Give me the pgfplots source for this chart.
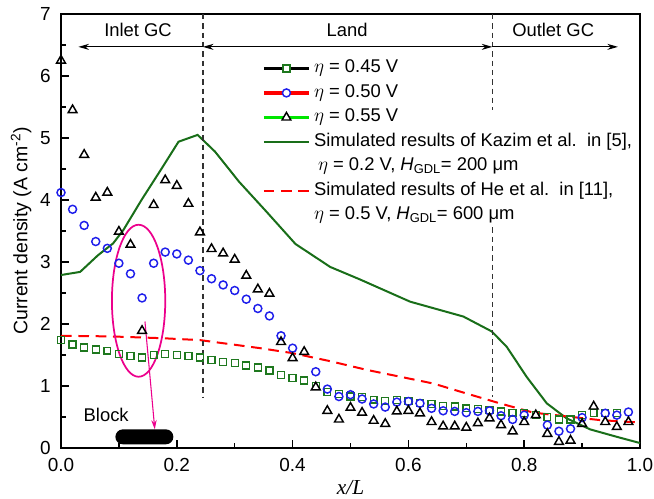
\documentclass[border=0pt]{standalone}
\usepackage{fontspec}
\setmainfont{Liberation Sans}
\newfontfamily\timesfont{Liberation Serif}
\usepackage{pgfplots}
\pgfplotsset{compat=1.18}
\usetikzlibrary{arrows.meta}
\definecolor{sqgreen}{RGB}{30,120,30}
\definecolor{cblue}{RGB}{30,30,235}
\definecolor{kgreen}{RGB}{25,110,25}
\definecolor{lgreen}{RGB}{0,230,0}
\definecolor{dgray}{RGB}{50,50,50}
\begin{document}
\fontsize{13.8}{16}\selectfont
\begin{tikzpicture}
\useasboundingbox (-45.75pt,-38.25pt) rectangle (444.75pt,336pt);
\begin{axis}[
  scale only axis, width=434.25pt, height=325.5pt,
  at={(0,0)}, anchor=south west,
  xmin=0, xmax=1, ymin=0, ymax=7,
  xtick={0,0.2,0.4,0.6,0.8,1.0},
  xticklabels={0.0,0.2,0.4,0.6,0.8,1.0},
  ytick={0,1,2,3,4,5,6,7},
  minor x tick num=1, minor y tick num=1,
  xtick pos=bottom, ytick pos=left, tick align=inside,
  major tick length=6pt, minor tick length=3.5pt,
  axis line style={line width=1.3pt},
  every tick/.style={black, line width=1.1pt},
  /pgf/number format/assume math mode=true,
  tick label style={font=\fontsize{14.2}{16}\selectfont},
  xticklabel style={yshift=-3pt},
  yticklabel style={xshift=-3pt},
  xlabel={{\fontsize{16}{18}\selectfont\timesfont\itshape x/L}},
  xlabel style={at={(axis description cs:0.5,-0.108)}, anchor=base},
  ylabel={{\fontsize{14.6}{17}\selectfont Current density (A cm\textsuperscript{-2})}},
  ylabel style={at={(axis description cs:-0.040,0.5)}, anchor=south},
  legend style={at={(0.347,0.896)}, anchor=north west, draw=none, fill=none,
    inner sep=0pt, row sep=4.9pt,
    font=\fontsize{13.8}{16}\selectfont,
    nodes={inner ysep=0pt, inner xsep=2.5pt, text height=10pt, text depth=3.5pt}},
  legend cell align=left,
  legend image code/.code={\draw[mark repeat=2, mark phase=2] plot coordinates {(0pt,0pt) (17pt,0pt) (34pt,0pt)};},
]
% Kazim et al. simulation
\addplot[kgreen, line width=1.5pt, forget plot] table {
0     2.79
0.033 2.84
0.064 3.11
0.090 3.30
0.108 3.52
0.139 4.00
0.174 4.51
0.203 4.94
0.236 5.05
0.266 4.78
0.290 4.50
0.307 4.30
0.355 3.81
0.405 3.29
0.465 2.92
0.516 2.72
0.603 2.36
0.695 2.12
0.744 1.88
0.770 1.63
0.804 1.15
0.839 0.72
0.873 0.48
0.914 0.30
0.960 0.18
1.000 0.08
};
% He et al. simulation
\addplot[red, line width=1.5pt, dash pattern=on 8pt off 5pt, forget plot] table {
0     1.81
0.085 1.80
0.177 1.77
0.240 1.74
0.344 1.61
0.400 1.53
0.465 1.40
0.528 1.26
0.643 1.04
0.700 0.88
0.758 0.72
0.816 0.57
0.873 0.51
0.931 0.45
1.000 0.41
};
% eta = 0.45 V
\addplot[only marks, mark=square, mark size=2.6pt, draw=sqgreen, mark options={line width=1pt}, forget plot] table {
0 1.74
0.02 1.67
0.04 1.62
0.06 1.59
0.08 1.57
0.10 1.52
0.12 1.48
0.14 1.46
0.16 1.50
0.18 1.52
0.20 1.50
0.22 1.48
0.24 1.46
0.26 1.42
0.28 1.39
0.30 1.37
0.32 1.33
0.34 1.30
0.36 1.25
0.38 1.18
0.40 1.13
0.42 1.09
0.44 1.00
0.46 0.90
0.48 0.87
0.50 0.83
0.52 0.82
0.54 0.78
0.56 0.76
0.58 0.77
0.60 0.76
0.62 0.73
0.64 0.71
0.66 0.68
0.68 0.67
0.70 0.64
0.72 0.63
0.74 0.61
0.76 0.59
0.78 0.57
0.80 0.56
0.82 0.53
0.84 0.50
0.86 0.46
0.88 0.46
0.90 0.53
0.92 0.56
0.94 0.56
0.96 0.56
};
% eta = 0.50 V
\addplot[only marks, mark=o, mark size=3pt, draw=cblue, mark options={line width=1.1pt}, forget plot] table {
0 4.12
0.02 3.85
0.04 3.59
0.06 3.33
0.08 3.22
0.10 2.98
0.12 2.81
0.14 2.42
0.16 2.98
0.18 3.16
0.20 3.13
0.22 3.03
0.24 2.86
0.26 2.73
0.28 2.63
0.30 2.54
0.32 2.40
0.34 2.25
0.36 2.13
0.38 1.81
0.40 1.61
0.44 1.23
0.46 0.95
0.48 0.83
0.50 0.86
0.52 0.79
0.54 0.71
0.56 0.66
0.58 0.74
0.60 0.75
0.62 0.72
0.64 0.64
0.66 0.60
0.68 0.59
0.70 0.57
0.72 0.59
0.74 0.60
0.76 0.52
0.78 0.46
0.80 0.53
0.84 0.37
0.86 0.27
0.88 0.31
0.90 0.49
0.94 0.56
0.96 0.53
0.98 0.58
};
% eta = 0.55 V
\addplot[only marks, mark=triangle, mark size=3.8pt, draw=black, mark options={line width=1.1pt}, forget plot] table {
0 6.25
0.02 5.45
0.04 4.73
0.06 4.04
0.08 4.12
0.10 3.49
0.12 3.28
0.14 1.89
0.16 3.92
0.18 4.32
0.20 4.23
0.22 3.94
0.24 3.48
0.26 3.21
0.28 3.14
0.30 3.04
0.32 2.78
0.34 2.56
0.36 2.49
0.38 1.71
0.40 1.45
0.42 1.55
0.44 0.98
0.46 0.60
0.48 0.46
0.50 0.65
0.52 0.57
0.54 0.44
0.56 0.39
0.58 0.59
0.60 0.60
0.62 0.56
0.64 0.42
0.66 0.35
0.68 0.35
0.70 0.33
0.72 0.40
0.74 0.48
0.76 0.37
0.78 0.27
0.80 0.42
0.82 0.53
0.84 0.23
0.86 0.10
0.88 0.12
0.90 0.39
0.92 0.67
0.94 0.42
0.96 0.34
0.98 0.42
};
% annotations
\draw[dgray, line width=1pt, dash pattern=on 4pt off 3pt] (axis cs:0.245,7) -- (axis cs:0.245,0.80);
\draw[dgray, line width=1pt, dash pattern=on 4pt off 3pt] (axis cs:0.745,7) -- (axis cs:0.745,5.45);
\draw[dgray, line width=1pt, dash pattern=on 4pt off 3pt] (axis cs:0.745,3.56) -- (axis cs:0.745,0.83);
\draw[black, line width=0.8pt, -{Stealth[length=8pt,width=4.5pt]}] (axis cs:0.245,6.47) -- (axis cs:0.03,6.47);
\draw[black, line width=0.8pt, {Stealth[length=8pt,width=4.5pt]}-{Stealth[length=8pt,width=4.5pt]}] (axis cs:0.245,6.47) -- (axis cs:0.745,6.47);
\draw[black, line width=0.8pt, -{Stealth[length=8pt,width=4.5pt]}] (axis cs:0.745,6.47) -- (axis cs:0.962,6.47);
\node at (axis cs:0.133,6.74) {Inlet GC};
\node at (axis cs:0.494,6.74) {Land};
\node at (axis cs:0.85,6.74) {Outlet GC};
\draw[magenta, line width=1.3pt] (axis cs:0.134,2.375) ellipse [x radius=20pt, y radius=57pt];
\draw[magenta, line width=0.8pt, -{Stealth[length=7pt,width=4pt]}] (axis cs:0.145,2.04) -- (axis cs:0.162,0.30);
\fill[black, rounded corners=5.5pt] (axis cs:0.094,0.06) rectangle (axis cs:0.194,0.30);
\node at (axis cs:0.078,0.53) {Block};
% legend
\addlegendimage{black, line width=2.4pt, mark=square*, mark size=2.6pt, mark options={solid, draw=sqgreen, fill=white, line width=1pt}}
\addlegendentry{$\eta$ = 0.45 V}
\addlegendimage{red, line width=2.4pt, mark=*, mark size=3pt, mark options={solid, draw=cblue, fill=white, line width=1.1pt}}
\addlegendentry{$\eta$ = 0.50 V}
\addlegendimage{lgreen, line width=2.4pt, mark=triangle*, mark size=3.8pt, mark options={solid, draw=black, fill=white, line width=1.1pt}}
\addlegendentry{$\eta$ = 0.55 V}
\addlegendimage{kgreen, line width=1.5pt}
\addlegendentry{Simulated results of Kazim et al.\ \ in [5],}
\addlegendimage{empty legend}
\addlegendentry{\hspace{3pt}$\eta$ = 0.2 V, \textit{H}\textsubscript{GDL}= 200 μm}
\addlegendimage{red, line width=1.5pt, dash pattern=on 8pt off 5pt}
\addlegendentry{Simulated results of He et al.\ \ in [11],}
\addlegendimage{empty legend}
\addlegendentry{$\eta$ = 0.5 V, \textit{H}\textsubscript{GDL}= 600 μm}
\end{axis}
\end{tikzpicture}
\end{document}
